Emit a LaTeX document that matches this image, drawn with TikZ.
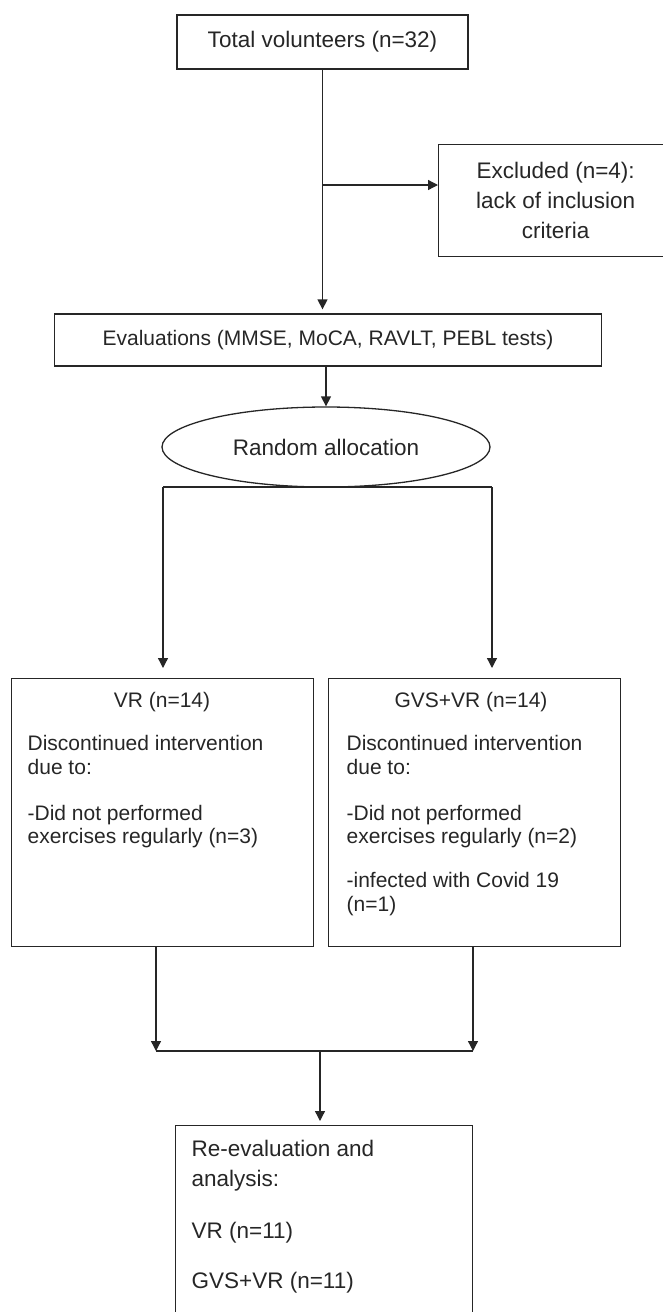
\documentclass[tikz,border=0pt]{standalone}
\usepackage{fontspec}
\setmainfont{Liberation Sans}
\usetikzlibrary{shapes.geometric, arrows.meta}

\begin{document}
\begin{tikzpicture}[
    x=1pt, y=-1pt,
    line width=1.3pt,
    color=black!85,
    every node/.style={font=\fontsize{21}{23.5}\selectfont},
    bigtext/.style={font=\fontsize{22.5}{30}\selectfont},
    box/.style={rectangle, draw, inner sep=0pt},
    oval/.style={ellipse, draw, inner sep=0pt, minimum width=328pt, minimum height=80pt},
    body/.style={anchor=north west, align=left, inner sep=0pt},
    flow/.style={-{Triangle[width=10pt, length=10pt]}}
  ]
  \path[use as bounding box, clip] (0,0) rectangle (663,1312);

  % boxes
  \node[box, bigtext, minimum width=291pt, minimum height=54pt] (total) at (322.5,42) {Total volunteers (n=32)};
  \node[box, bigtext, align=center, anchor=north west, minimum width=234pt, minimum height=112pt] (excl) at (438,144)
    {Excluded (n=4):\\lack of inclusion\\criteria};
  \node[box, minimum width=547pt, minimum height=52pt] (evals) at (328,340) {Evaluations (MMSE, MoCA, RAVLT, PEBL tests)};
  \node[oval, bigtext] (rand) at (326,447) {Random allocation};

  \node[box, anchor=north west, minimum width=302pt, minimum height=268pt] (vr) at (11,678) {};
  \node[anchor=base] (vrhead) at (162,707) {VR (n=14)};
  \node[body] (vrbody) at (27,734.7)
    {Discontinued intervention\\due to:\\[22.5pt]-Did not performed\\exercises regularly (n=3)};

  \node[box, anchor=north west, minimum width=292pt, minimum height=268pt] (gvs) at (328,678) {};
  \node[anchor=base] (gvshead) at (471,707) {GVS+VR (n=14)};
  \node[body] (gvsbody) at (346,734.7)
    {Discontinued intervention\\due to:\\[22.5pt]-Did not performed\\exercises regularly (n=2)\\[20.5pt]-infected with Covid 19\\(n=1)};

  \node[box, anchor=north west, minimum width=297pt, minimum height=240pt] (reeval) at (175,1125) {};
  \node[body, bigtext] (reevalbody) at (191,1139.6)
    {Re-evaluation and\\analysis:\\[22pt]VR (n=11)\\[20pt]GVS+VR (n=11)};

  % connectors
  \coordinate (split) at (322.5,185);
  \draw[flow, shorten >=4pt] (total.south) -- (total.south |- evals.north);
  \draw[flow] (split) -- (split -| excl.west);
  \draw[flow] (rand.north |- evals.south) -- (rand.north);

  \coordinate (forkL) at (163,487);
  \coordinate (forkR) at (492,487);
  \draw (forkL) -- (forkR);
  \draw[flow, shorten >=10pt] (forkL) -- (forkL |- vr.north);
  \draw[flow, shorten >=10pt] (forkR) -- (forkR |- gvs.north);

  \coordinate (joinL) at (156,1051);
  \coordinate (joinR) at (473,1051);
  \coordinate (joinM) at (320,1051);
  \draw[flow] (vr.south -| joinL) -- (joinL);
  \draw[flow] (gvs.south -| joinR) -- (joinR);
  \draw (joinL) -- (joinR);
  \draw[flow, shorten >=4pt] (joinM) -- (joinM |- reeval.north);
\end{tikzpicture}
\end{document}
